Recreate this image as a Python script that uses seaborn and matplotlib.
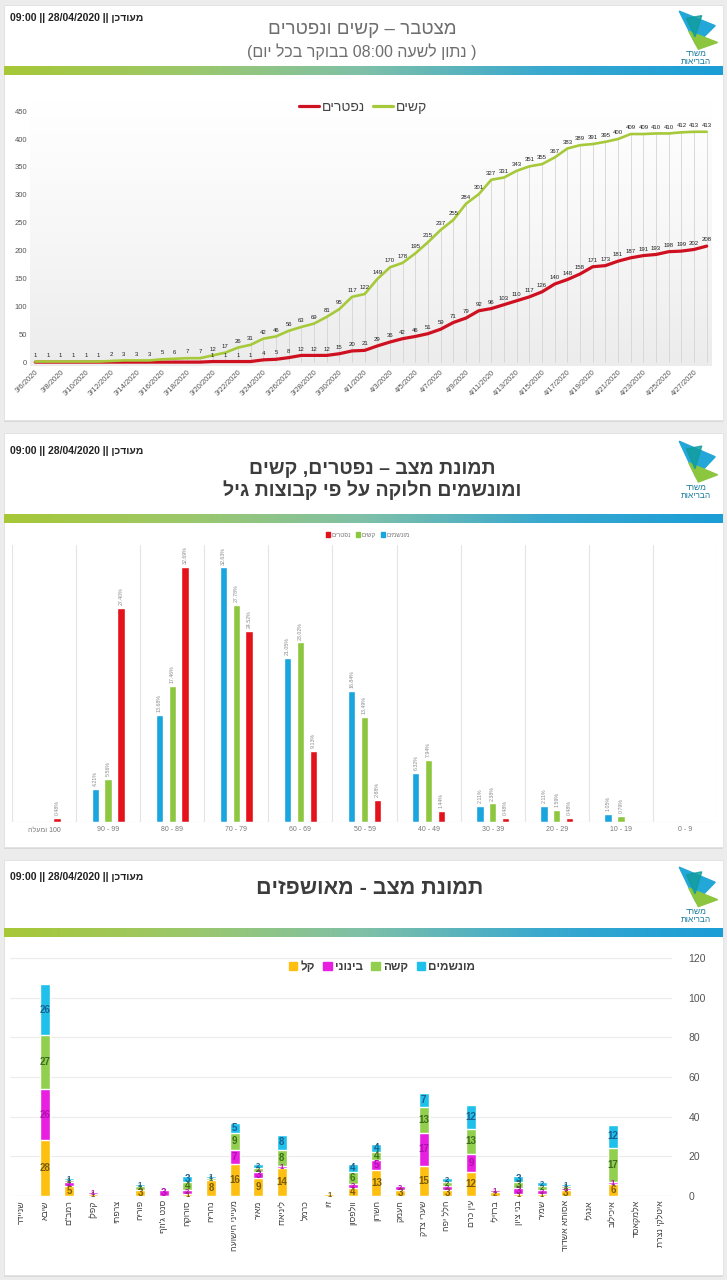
import re
import matplotlib
matplotlib.use("Agg")
import matplotlib.pyplot as plt
from matplotlib.patches import Rectangle, Polygon, Patch
from matplotlib.lines import Line2D
from matplotlib.colors import LinearSegmentedColormap
import numpy as np
import pandas as pd
import seaborn as sns

W, H = 727, 1280

# --- donnees graphe 1 : cumul graves / deces par jour
dates = pd.date_range("2020-03-06", "2020-04-28", freq="D")
serious = [1, 1, 1, 1, 1, 1, 2, 3, 3, 3, 5, 6, 7, 7, 12, 17, 26, 31, 42, 46, 56, 63, 69, 81, 95, 117,
           122, 149, 170, 178, 195, 215, 237, 255, 284, 301, 327, 331, 343, 351, 355, 367, 383, 389,
           391, 395, 400, 409, 409, 410, 410, 412, 413, 413]
deaths = [0, 0, 0, 0, 0, 0, 0, 0, 0, 0, 0, 0, 0, 0, 1, 1, 1, 1, 4, 5, 8, 12, 12, 12, 15, 20,
          21, 29, 36, 42, 46, 51, 59, 71, 79, 92, 96, 103, 110, 117, 126, 140, 148, 158,
          171, 173, 181, 187, 191, 193, 198, 199, 202, 208]

# --- donnees graphe 2 : repartition par age (%)
age_groups = ["100 ומעלה", "90 - 99", "80 - 89", "70 - 79", "60 - 69", "50 - 59",
              "40 - 49", "30 - 39", "20 - 29", "10 - 19", "0 - 9"]
vent_pct = [0, 4.21, 13.68, 32.63, 21.05, 16.84, 6.32, 2.11, 2.11, 1.05, 0]
serious_pct = [0, 5.56, 17.46, 27.78, 23.02, 13.49, 7.94, 2.38, 1.59, 0.79, 0]
deaths_pct = [0.48, 27.40, 32.69, 24.52, 9.13, 2.88, 1.44, 0.48, 0.48, 0, 0]

# --- donnees graphe 3 : hospitalises par hopital
hospitals = ["שניידר", "שיבא", "רמב\"ם", "קפלן", "צרפתי", "פוריה", "סנט ג'וזף", "סורוקה", "נהריה",
             "מעייני הישועה", "מאיר", "ליניאדו", "כרמל", "זיו", "וולפסון", "השרון", "העמק",
             "שערי צדק", "הלל יפה", "עין כרם", "ברזילי", "בני ציון", "שמיר", "אסותא אשדוד",
             "אנגלי", "איכילוב", "אלמקאסד", "איטלקי נצרת"]
light = [0, 28, 5, 1, 0, 3, 0, 1, 8, 16, 9, 14, 0, 1, 4, 13, 3, 15, 3, 12, 2, 1, 1, 3, 0, 6, 0, 0]
moderate = [0, 26, 2, 1, 0, 0, 3, 2, 0, 7, 3, 1, 0, 0, 2, 5, 2, 17, 2, 9, 1, 3, 2, 1, 0, 1, 0, 0]
severe = [0, 27, 1, 0, 0, 2, 0, 4, 1, 9, 2, 8, 0, 0, 6, 4, 0, 13, 2, 13, 0, 3, 2, 1, 0, 17, 0, 0]
ventilated = [0, 26, 1, 0, 0, 1, 0, 3, 1, 5, 2, 8, 0, 0, 4, 4, 0, 7, 2, 12, 0, 3, 2, 1, 0, 12, 0, 0]

UPDATED = "מעודכן || 28/04/2020 || 09:00"


def vis(s):
    # matplotlib ne fait pas le bidi : on remet l'hebreu dans l'ordre visuel
    if not re.search("[\u0590-\u05ff]", s):
        return s
    r = s[::-1]
    r = re.sub(r"[0-9A-Za-z:./|]+", lambda m: m.group(0)[::-1], r)
    return r.translate(str.maketrans("()", ")("))


def px_axes(x, y, w, h, **kw):
    return fig.add_axes([x / W, 1 - (y + h) / H, w / W, h / H], **kw)


def ftext(x, y, s, **kw):
    fig.text(x / W, 1 - y / H, s, **kw)


def card(y, h):
    fig.patches.append(Rectangle((4 / W, 1 - (y + h + 2) / H), 719 / W, (h + 2) / H,
                                 transform=fig.transFigure, facecolor="#d9d9d9", edgecolor="none", zorder=-2))
    fig.patches.append(Rectangle((4 / W, 1 - (y + h) / H), 719 / W, h / H,
                                 transform=fig.transFigure, facecolor="white", edgecolor="#e2e2e2",
                                 lw=0.6, zorder=-1))


def bande(y):
    cmap = LinearSegmentedColormap.from_list("bande", ["#a7c737", "#9cc86a", "#7fc0a8", "#3aa9cf", "#1b9dd6"])
    ax = px_axes(4, y, 719, 9)
    ax.imshow(np.linspace(0, 1, 300)[None, :], cmap=cmap, aspect="auto")
    ax.axis("off")


def logo(y, h):
    ax = px_axes(672, y, 48, h)
    ax.set_xlim(0, 1)
    ax.set_ylim(0, 1)
    ax.add_patch(Polygon([(0.15, 0.98), (0.9, 0.72), (0.5, 0.38)], color="#22a7d8"))
    ax.add_patch(Polygon([(0.35, 0.62), (0.95, 0.42), (0.55, 0.3)], color="#8cc63f"))
    ax.add_patch(Polygon([(0.3, 0.85), (0.62, 0.9), (0.48, 0.52)], color="#109c9c", alpha=0.8))
    ax.text(0.5, 0.2, vis("משרד"), ha="center", va="center", fontsize=6, color="#157a9c")
    ax.text(0.5, 0.06, vis("הבריאות"), ha="center", va="center", fontsize=6, color="#157a9c")
    ax.axis("off")


sns.set_theme(style="white")
plt.rcParams["font.family"] = ["Liberation Sans", "DejaVu Sans"]

fig = plt.figure(figsize=(W / 100, H / 100), dpi=100, facecolor="#ececec")

card(5, 415)
card(433, 414)
card(860, 415)

# ================= panneau 1 =================
ftext(10, 18, vis(UPDATED), fontsize=7.5, fontweight="bold", color="#222", va="center")
ftext(362, 29, vis("מצטבר – קשים ונפטרים"), fontsize=13.5, color="#6e6e6e", ha="center", va="center")
ftext(362, 52, vis("( נתון לשעה 08:00 בבוקר בכל יום)"), fontsize=11.5, color="#6e6e6e",
      ha="center", va="center")
logo(10, 56)
bande(66)

rect1 = (30, 100, 682, 266)
bg = px_axes(*rect1, zorder=0)
bg.imshow(np.linspace(0, 1, 200)[:, None],
          cmap=LinearSegmentedColormap.from_list("g", ["#ffffff", "#f7f7f7", "#ececec"]), aspect="auto")
bg.axis("off")

ax1 = px_axes(*rect1, zorder=1)
ax1.set_facecolor("none")
df1 = pd.DataFrame({"date": dates, "serious": serious, "deaths": deaths})
ax1.vlines(df1["date"], 0, df1["serious"], color="#d4d4d4", lw=0.6, zorder=1)
sns.lineplot(data=df1, x="date", y="deaths", color="#cf1020", lw=2.3, ax=ax1, zorder=3)
sns.lineplot(data=df1, x="date", y="serious", color="#a6c93a", lw=1.9, ax=ax1, zorder=4)
for d, v in zip(df1["date"], df1["serious"]):
    ax1.text(d, v + 7, str(v), fontsize=4.3, ha="center", va="bottom", color="#222", zorder=5)
for d, v in zip(df1["date"], df1["deaths"]):
    if v > 0:
        ax1.text(d, v + 7, str(v), fontsize=4.3, ha="center", va="bottom", color="#222", zorder=5)

ax1.set_xlim(dates[0] - pd.Timedelta(hours=10), dates[-1] + pd.Timedelta(hours=10))
ax1.set_ylim(-7, 470)
ax1.set_yticks(range(0, 451, 50))
ax1.set_xticks(dates[::2])
ax1.set_xticklabels([f"{d.month}/{d.day}/{d.year}" for d in dates[::2]], rotation=45,
                    ha="right", rotation_mode="anchor")
ax1.tick_params(axis="both", labelsize=5.5, colors="#555", length=0, pad=2)
ax1.set_xlabel("")
ax1.set_ylabel("")
for s in ax1.spines.values():
    s.set_visible(False)
ax1.legend(handles=[Line2D([], [], color="#cf1020", lw=2.3), Line2D([], [], color="#a6c93a", lw=2.3)],
           labels=[vis("נפטרים"), vis("קשים")], ncol=2, frameon=False, fontsize=10,
           handlelength=1.4, handletextpad=0.2, columnspacing=0.6,
           loc="center", bbox_to_anchor=(363 / W, 1 - 107 / H), bbox_transform=fig.transFigure,
           labelcolor="#444")

# ================= panneau 2 =================
ftext(10, 451, vis(UPDATED), fontsize=7.5, fontweight="bold", color="#222", va="center")
ftext(372, 469, vis("תמונת מצב – נפטרים, קשים"), fontsize=14, fontweight="bold", color="#3c3c3c",
      ha="center", va="center")
ftext(372, 490, vis("ומונשמים חלוקה על פי קבוצות גיל"), fontsize=14, fontweight="bold", color="#3c3c3c",
      ha="center", va="center")
logo(440, 60)
bande(514)

c_vent, c_ser, c_dead = "#19a6de", "#8dc63f", "#e3121b"
lab_vent, lab_ser, lab_dead = vis("מונשמים"), vis("קשים"), vis("נפטרים")
ages_vis = [vis(a) for a in age_groups]
df2 = pd.DataFrame({
    "age": ages_vis * 3,
    "serie": [lab_vent] * 11 + [lab_ser] * 11 + [lab_dead] * 11,
    "pct": vent_pct + serious_pct + deaths_pct,
})
ax2 = px_axes(12, 545, 705, 277)
sns.barplot(data=df2, x="age", y="pct", hue="serie", order=ages_vis,
            hue_order=[lab_vent, lab_ser, lab_dead],
            palette={lab_vent: c_vent, lab_ser: c_ser, lab_dead: c_dead},
            width=0.6, gap=0.42, saturation=1, legend=False, ax=ax2)
for cont, vals in zip(ax2.containers, [vent_pct, serious_pct, deaths_pct]):
    ax2.bar_label(cont, labels=[f"{v:.2f}%" if v > 0 else "" for v in vals], rotation=90,
                  padding=2, fontsize=3.8, color="#8a8a8a")
for k in range(12):
    ax2.axvline(k - 0.5, color="#e4e4e4", lw=0.8, zorder=0)
ax2.axhline(0, color="#d9d9d9", lw=0.8)
ax2.set_xlim(-0.5, 10.5)
ax2.set_ylim(0, 35.5)
ax2.set_yticks([])
ax2.set_xlabel("")
ax2.set_ylabel("")
ax2.tick_params(axis="x", labelsize=5, colors="#777", length=0, pad=3)
for s in ax2.spines.values():
    s.set_visible(False)
ax2.legend(handles=[Patch(color=c_dead), Patch(color=c_ser), Patch(color=c_vent)],
           labels=[lab_dead, lab_ser, lab_vent], ncol=3, frameon=False, fontsize=4.5,
           handlelength=0.6, handleheight=0.8, handletextpad=0.3, columnspacing=0.8,
           loc="center", bbox_to_anchor=(368 / W, 1 - 535 / H), bbox_transform=fig.transFigure,
           labelcolor="#777")

# ================= panneau 3 =================
ftext(10, 877, vis(UPDATED), fontsize=7.5, fontweight="bold", color="#222", va="center")
ftext(370, 888, vis("תמונת מצב - מאושפזים"), fontsize=15.5, fontweight="bold", color="#3c3c3c",
      ha="center", va="center")
logo(866, 58)
bande(928)

hosp_vis = [vis(h) for h in hospitals]
c_light, c_mod, c_sev, c_ven = "#fdc010", "#e81ee0", "#92cf4f", "#1fc0ea"
t_light, t_mod, t_sev, t_ven = "#7a5c08", "#b010b0", "#3c6e1c", "#1b5f90"
cum1 = np.array(light)
cum2 = cum1 + np.array(moderate)
cum3 = cum2 + np.array(severe)
cum4 = cum3 + np.array(ventilated)

ax3 = px_axes(10, 950, 662, 246)
# barres empilees : on superpose les cumuls du plus haut au plus bas
for cum, col in [(cum4, c_ven), (cum3, c_sev), (cum2, c_mod), (cum1, c_light)]:
    sns.barplot(x=hosp_vis, y=cum, order=hosp_vis, color=col, saturation=1, width=0.42, ax=ax3, zorder=2)
for i in range(len(hospitals)):
    bottoms = [0, cum1[i], cum2[i], cum3[i]]
    for b, v, tc in zip(bottoms, [light[i], moderate[i], severe[i], ventilated[i]],
                        [t_light, t_mod, t_sev, t_ven]):
        if v > 0:
            fs = 7 if v >= 3 else 5.5
            ax3.text(i, b + v / 2, str(v), ha="center", va="center", fontsize=fs,
                     fontweight="bold", color=tc, zorder=4)

ax3.set_xlim(-0.5, 27.5)
ax3.set_ylim(0, 124)
ax3.yaxis.tick_right()
ax3.set_yticks(range(0, 121, 20))
ax3.grid(axis="y", color="#ebebeb", lw=0.8)
ax3.set_axisbelow(True)
ax3.set_xticks(range(len(hospitals)))
ax3.set_xticklabels(hosp_vis, rotation=90)
ax3.tick_params(axis="y", labelsize=7.5, colors="#555", length=0, pad=12)
ax3.tick_params(axis="x", labelsize=6.3, colors="#404040", length=0, pad=3)
ax3.set_xlabel("")
ax3.set_ylabel("")
for s in ax3.spines.values():
    s.set_visible(False)
ax3.axhline(0, color="#d9d9d9", lw=0.8, zorder=1)
ax3.legend(handles=[Patch(color=c_light), Patch(color=c_mod), Patch(color=c_sev), Patch(color=c_ven)],
           labels=[vis("קל"), vis("בינוני"), vis("קשה"), vis("מונשמים")], ncol=4, frameon=False,
           handlelength=0.7, handleheight=0.7, handletextpad=0.3, columnspacing=0.7,
           loc="center", bbox_to_anchor=(382 / W, 1 - 967 / H), bbox_transform=fig.transFigure,
           labelcolor="#404040", prop={"weight": "bold", "size": 8.5})

fig.savefig("out.png", dpi=100, facecolor=fig.get_facecolor())
